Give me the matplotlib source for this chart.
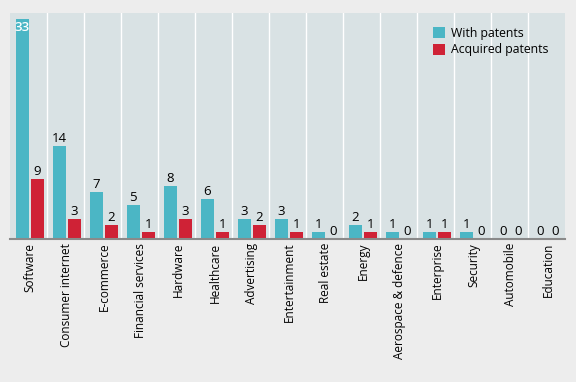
import numpy as np
from matplotlib import pyplot as plt

plt.rcParams['font.family'] = ['Open Sans', 'DejaVu Sans']

# data
categories = ["Software", "Consumer internet", "E-commerce", "Financial services", "Hardware",
              "Healthcare", "Advertising", "Entertainment", "Real estate", "Energy",
              "Aerospace & defence", "Enterprise", "Security", "Automobile", "Education"]
with_patents = [33, 14, 7, 5, 8, 6, 3, 3, 1, 2, 1, 1, 1, 0, 0]
acquired_patents = [9, 3, 2, 1, 3, 1, 2, 1, 0, 1, 0, 1, 0, 0, 0]

teal = "#4bb6c5"
red = "#cf2236"

fig = plt.figure(figsize=(5.76, 3.82), dpi=100, facecolor="#ededed")
ax = fig.add_axes([10 / 576, 1 - 238.7 / 382, 555 / 576, 225.4 / 382])
ax.set_facecolor("#d9e2e4")

x = np.arange(len(categories))
w = 0.36
b1 = ax.bar(x - 0.165, with_patents, w, color=teal, label="With patents", zorder=2)
b2 = ax.bar(x + 0.24, acquired_patents, w, color=red, label="Acquired patents", zorder=2)

# value labels
for rect, v in zip(b1, with_patents):
    cx = rect.get_x() + rect.get_width() / 2
    if v > 30:
        ax.text(cx, v - 0.2, str(v), ha="center", va="top", color="white", fontsize=9.5,
                fontweight="semibold", zorder=3)
    else:
        ax.text(cx, v + 0.15, str(v), ha="center", va="bottom", color="black", fontsize=9.5, zorder=3)
for rect, v in zip(b2, acquired_patents):
    cx = rect.get_x() + rect.get_width() / 2
    ax.text(cx, v + 0.15, str(v), ha="center", va="bottom", color="black", fontsize=9.5, zorder=3)

# white separators between categories
for i in range(len(categories) - 1):
    ax.axvline(i + 0.5, color="white", lw=1, zorder=1)

ax.set_xlim(-0.5, len(categories) - 0.5)
ax.set_ylim(0, 33.9)
ax.set_yticks([])
ax.set_xticks(x + 0.04)
ax.set_xticklabels(categories, rotation=90, fontsize=8.5)
ax.tick_params(axis="x", length=0, pad=3)
for s in ["top", "right", "left"]:
    ax.spines[s].set_visible(False)
ax.spines["bottom"].set_color("#8a8a8a")
ax.spines["bottom"].set_linewidth(1.5)
ax.spines["bottom"].set_zorder(4)

ax.legend(loc="upper right", bbox_to_anchor=(0.99, 0.99), frameon=False, fontsize=8.8,
          handlelength=1.0, handleheight=1.0, handletextpad=0.5, labelspacing=0.3)

fig.savefig("out.png", dpi=100, facecolor=fig.get_facecolor())
